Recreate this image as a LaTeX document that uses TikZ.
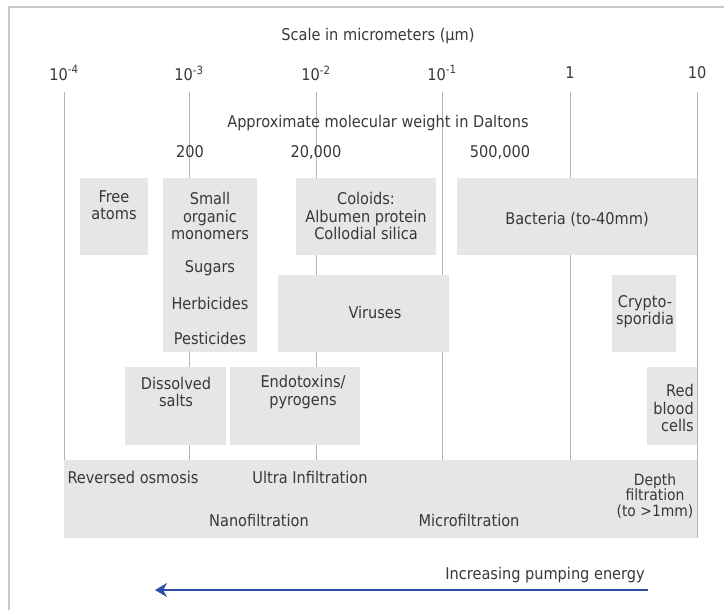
\documentclass[tikz,border=0pt]{standalone}
\usepackage{fontspec}
\setmainfont{DejaVu Sans Condensed}
\usetikzlibrary{arrows.meta}
\definecolor{boxgray}{HTML}{E6E6E6}
\definecolor{gridgray}{HTML}{B4B4B4}
\definecolor{framegray}{HTML}{C8C8C8}
\definecolor{txtgray}{HTML}{383838}
\definecolor{arrowblue}{HTML}{2B4FA8}
\tikzset{
  lbl/.style={text=txtgray, font=\fontsize{13.8}{14.8}\selectfont, align=center, inner sep=0pt},
  gridline/.style={draw=gridgray, line width=0.6pt},
}
\begin{document}
\begin{tikzpicture}[x=0.03cm, y=-0.03cm]
  \useasboundingbox (0,0) rectangle (724,610);
  % frame
  \draw[line width=1.5pt, framegray] (724,7) -- (9,7) -- (9,610);
  % Scale heading and ticks
  \node[lbl] (scale) at (378,36) {Scale in micrometers (µm)};
  \foreach \x/\n/\t in {64/a/10\textsuperscript{-4}, 189/b/10\textsuperscript{-3},
      316/c/10\textsuperscript{-2}, 442/d/10\textsuperscript{-1}, 570/e/1, 697/f/10}{
    \node[lbl] (tick\n) at (\x,73) {\t};
    \coordinate (foot\n) at (\x,538);
    \draw[gridline] (tick\n) ++(0,19) -- (foot\n);
  }
  % Molecular weight
  \node[lbl] (mw) at (378,123) {Approximate molecular weight in Daltons};
  \node[lbl] (mwlow) at (190,152) {200};
  \node[lbl] (mwmid) at (316,152) {20,000};
  \node[lbl] (mwhigh) at (500,152) {500,000};
  % Boxes
  \fill[boxgray] (80,178) rectangle (148,255);
  \fill[boxgray] (163,178) rectangle (257,352);
  \fill[boxgray] (296,178) rectangle (436,255);
  \fill[boxgray] (457,178) rectangle (697,255);
  \fill[boxgray] (278,275) rectangle (449,352);
  \fill[boxgray] (612,275) rectangle (676,352);
  \fill[boxgray] (125,367) rectangle (226,445);
  \fill[boxgray] (230,367) rectangle (360,445);
  \fill[boxgray] (647,367) rectangle (697,445);
  \fill[boxgray] (64,460) rectangle (697,538);
  % Box labels
  \node[lbl] (free) at (114,205) {Free\\atoms};
  \node[lbl] (small) at (210,216) {Small\\organic\\monomers};
  \node[lbl] (sugars) at (210,268) {Sugars};
  \node[lbl] (herb) at (210,303) {Herbicides};
  \node[lbl] (pest) at (210,338) {Pesticides};
  \node[lbl] (coloids) at (366,216) {Coloids:\\Albumen protein\\Collodial silica};
  \node[lbl] (bacteria) at (577,219) {Bacteria (to-40mm)};
  \node[lbl] (viruses) at (375,312) {Viruses};
  \node[lbl] (crypto) at (645,312) {Crypto-\\sporidia};
  \node[lbl] (salts) at (176,392) {Dissolved\\salts};
  \node[lbl] (endo) at (303,392) {Endotoxins/\\pyrogens};
  \node[lbl, align=right, anchor=east] (rbc) at (694,408) {Red\\blood\\cells};
  % Filtration band
  \node[lbl] (ro) at (133,477) {Reversed osmosis};
  \node[lbl] (uf) at (310,477) {Ultra Infiltration};
  \node[lbl] (nf) at (259,520) {Nanofiltration};
  \node[lbl] (mf) at (469,520) {Microfiltration};
  \node[lbl, font=\fontsize{13.2}{13.2}\selectfont] (depth) at (655,496) {Depth\\filtration\\(to >1mm)};
  % Pumping energy
  \node[lbl, anchor=east] (energy) at (645,575) {Increasing pumping energy};
  \coordinate (tail) at (648,590);
  \coordinate (head) at (155,590);
  \draw[-{Stealth[length=3.6mm, width=4.2mm]}, arrowblue, line width=1.5pt] (tail) -- (head);
\end{tikzpicture}
\end{document}
